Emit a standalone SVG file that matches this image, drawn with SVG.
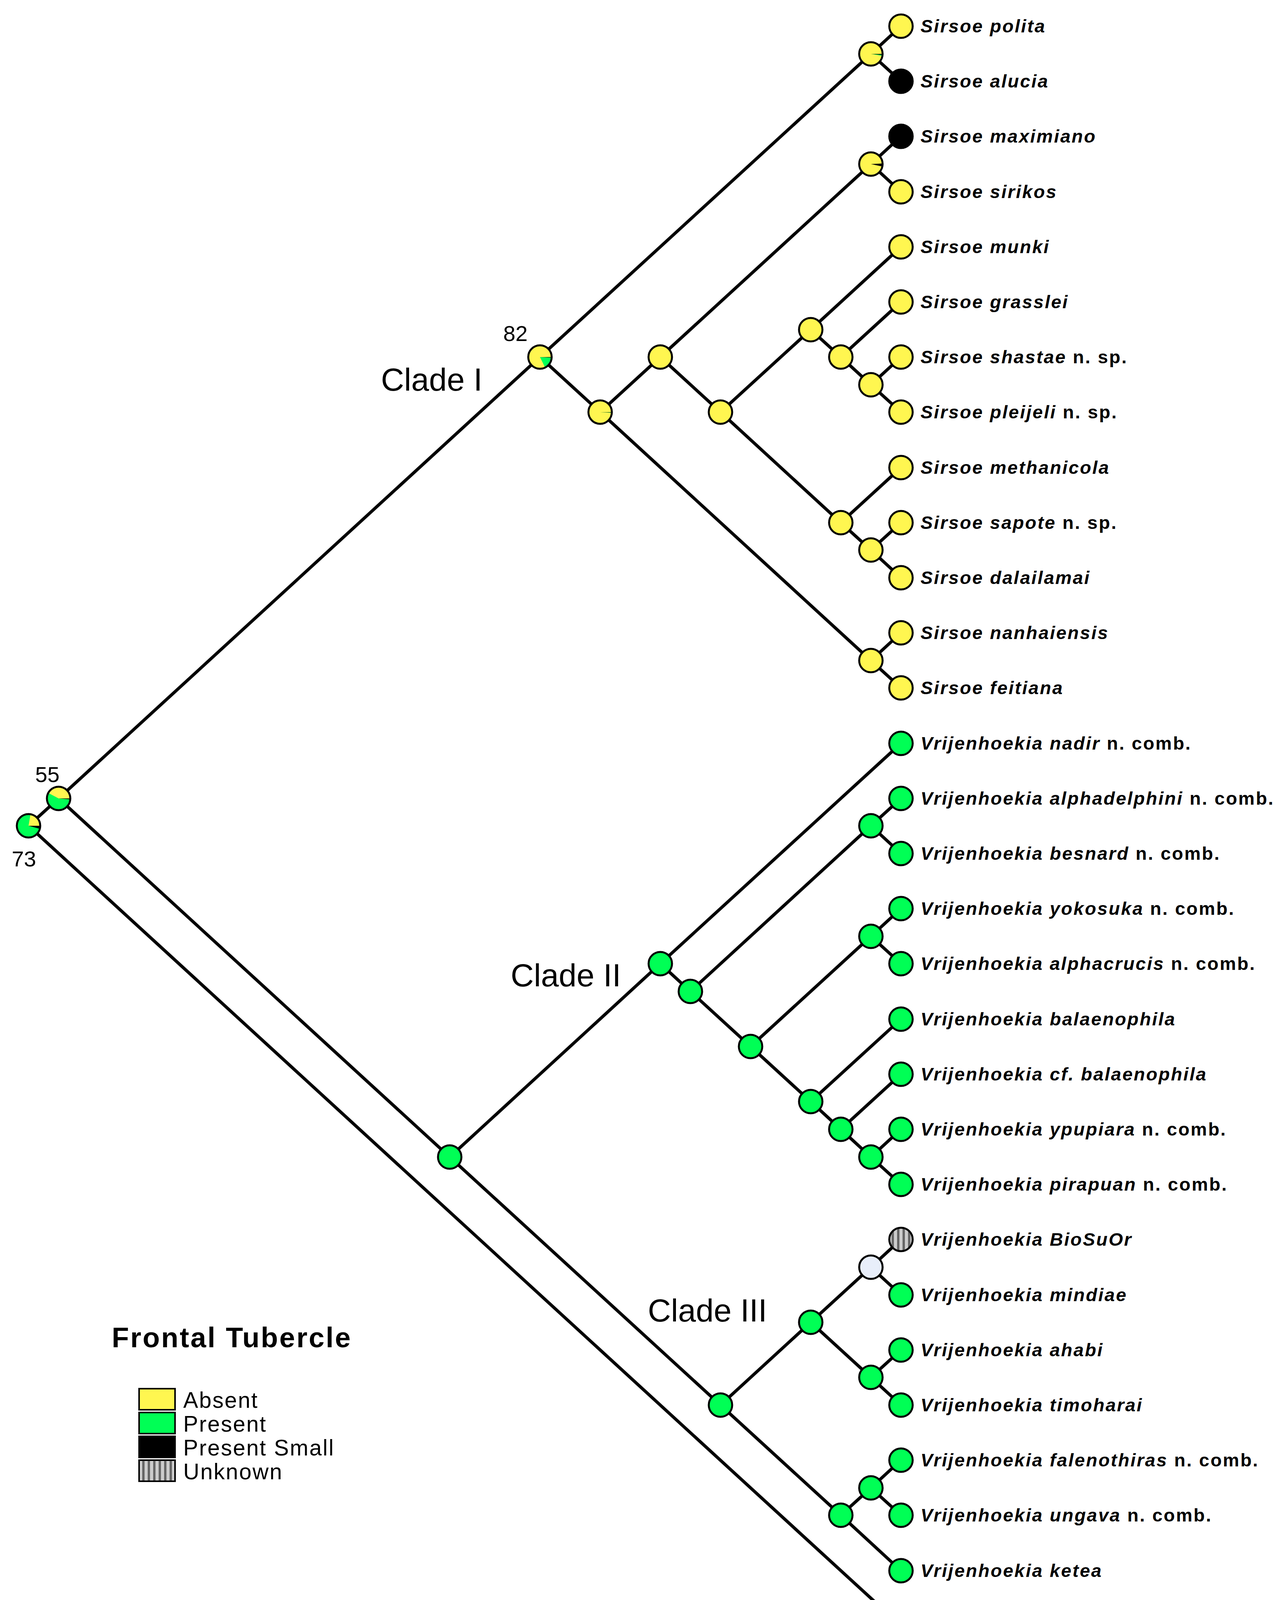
<svg xmlns="http://www.w3.org/2000/svg" width="3294" height="4240" viewBox="0 0 3294 4240">
<defs>
<pattern id="hatch" patternUnits="userSpaceOnUse" width="14" height="14"><rect width="14" height="14" fill="#cccccc"/><rect width="6" height="14" fill="#666666"/></pattern>
</defs>
<style>
.e{stroke:#000;stroke-width:8;fill:none;stroke-linecap:round}
.c{stroke:#000;stroke-width:5}
.y{fill:#FFF650}.g{fill:#00FF55}.k{fill:#000}.u{fill:url(#hatch)}.w{fill:#E8EEFA}
.t{font-family:"Liberation Sans",Arial,sans-serif;font-size:47px;font-weight:bold;font-style:italic;letter-spacing:3px}
.t tspan{font-style:normal}
.cl{font-family:"Liberation Sans",Arial,sans-serif;font-size:82px}
.n{font-family:"Liberation Sans",Arial,sans-serif;font-size:56px}
.lg{font-family:"Liberation Sans",Arial,sans-serif;font-size:57px;letter-spacing:2.5px}
</style>
<g id="connectors">
<path class="e" d="M73,2114 L150,2044 M73,2114 L2306,4162 M150,2044 L1382,914 M150,2044 L1151,2962
M1382,914 L2229,138 M1382,914 L1536,1055 M2229,138 L2306,67 M2229,138 L2306,208
M1536,1055 L1690,914 M1536,1055 L2229,1691 M1690,914 L2229,420 M1690,914 L1844,1055
M2229,420 L2306,349 M2229,420 L2306,491 M1844,1055 L2075,844 M1844,1055 L2152,1338
M2075,844 L2306,632 M2075,844 L2152,914 M2152,914 L2306,773 M2152,914 L2229,985 M2229,985 L2306,914 M2229,985 L2306,1055
M2152,1338 L2306,1197 M2152,1338 L2229,1408 M2229,1408 L2306,1338 M2229,1408 L2306,1479
M2229,1691 L2306,1620 M2229,1691 L2306,1761
M1151,2962 L1690,2467 M1151,2962 L1844,3597
M1690,2467 L2306,1903 M1690,2467 L1767,2538 M1767,2538 L2229,2114 M1767,2538 L1921,2679
M2229,2114 L2306,2044 M2229,2114 L2306,2185 M1921,2679 L2229,2397 M1921,2679 L2075,2820
M2229,2397 L2306,2326 M2229,2397 L2306,2467 M2075,2820 L2306,2609 M2075,2820 L2152,2891
M2152,2891 L2306,2750 M2152,2891 L2229,2962 M2229,2962 L2306,2891 M2229,2962 L2306,3032
M1844,3597 L2075,3385 M1844,3597 L2152,3879 M2075,3385 L2229,3244 M2075,3385 L2229,3526
M2229,3244 L2306,3173 M2229,3244 L2306,3315 M2229,3526 L2306,3456 M2229,3526 L2306,3597
M2152,3879 L2229,3809 M2152,3879 L2306,4021 M2229,3809 L2306,3738 M2229,3809 L2306,3879"/>
</g>
<g id="node-root">
<circle class="g" cx="73" cy="2114" r="30"/>
<path class="y" d="M73,2114 L78.2,2084.5 A30,30 0 0 1 103,2114 Z"/>
<path class="k" d="M73,2114 L103,2114 A30,30 0 0 1 102,2121.8 Z"/>
<circle class="c" cx="73" cy="2114" r="30" fill="none"/>
<text class="n" x="30" y="2218">73</text>
</g>
<g id="node-55">
<circle class="g" cx="150" cy="2044" r="30"/>
<path class="y" d="M150,2044 L123.5,2029.9 A30,30 0 0 1 180,2044 Z"/>
<path class="k" d="M150,2044 L180,2044 A30,30 0 0 1 179.9,2046.6 Z"/>
<circle class="c" cx="150" cy="2044" r="30" fill="none"/>
<text class="n" x="90" y="2002">55</text>
</g>
<g id="node-82">
<circle class="y" cx="1382" cy="914" r="30"/>
<path class="g" d="M1382,914 L1412,915.6 A30,30 0 0 1 1395.2,941 Z"/>
<path class="k" d="M1382,914 L1412,914 A30,30 0 0 1 1412,915.6 Z"/>
<circle class="c" cx="1382" cy="914" r="30" fill="none"/>
<text class="n" x="1288" y="873">82</text>
</g>
<g id="node-sirsoe-a">
<circle class="y" cx="1536" cy="1055" r="30"/>
<path class="g" d="M1536,1055 L1566,1056 A30,30 0 0 1 1565.9,1057.1 Z"/>
<path class="k" d="M1536,1055 L1566,1055 A30,30 0 0 1 1566,1056 Z"/>
<circle class="c" cx="1536" cy="1055" r="30" fill="none"/>
</g>
<g id="node-p01">
<circle class="y" cx="2229" cy="138" r="30"/>
<path class="g" d="M2229,138 L2258.9,140.6 A30,30 0 0 1 2258.5,143.2 Z"/>
<path class="k" d="M2229,138 L2259,138 A30,30 0 0 1 2258.9,140.6 Z"/>
<circle class="c" cx="2229" cy="138" r="30" fill="none"/>
</g>
<g id="node-p23">
<circle class="y" cx="2229" cy="420" r="30"/>
<path class="k" d="M2229,420 L2259,418.4 A30,30 0 0 1 2258.3,426.2 Z"/>
<circle class="c" cx="2229" cy="420" r="30" fill="none"/>
</g>
<g id="nodes-yellow">
<circle class="y c" cx="1690" cy="914" r="30"/>
<circle class="y c" cx="1844" cy="1055" r="30"/>
<circle class="y c" cx="2075" cy="844" r="30"/>
<circle class="y c" cx="2152" cy="914" r="30"/>
<circle class="y c" cx="2229" cy="985" r="30"/>
<circle class="y c" cx="2152" cy="1338" r="30"/>
<circle class="y c" cx="2229" cy="1408" r="30"/>
<circle class="y c" cx="2229" cy="1691" r="30"/>
</g>
<g id="nodes-green">
<circle class="g c" cx="1151" cy="2962" r="30"/>
<circle class="g c" cx="1690" cy="2467" r="30"/>
<circle class="g c" cx="1767" cy="2538" r="30"/>
<circle class="g c" cx="2229" cy="2114" r="30"/>
<circle class="g c" cx="1921" cy="2679" r="30"/>
<circle class="g c" cx="2229" cy="2397" r="30"/>
<circle class="g c" cx="2075" cy="2820" r="30"/>
<circle class="g c" cx="2152" cy="2891" r="30"/>
<circle class="g c" cx="2229" cy="2962" r="30"/>
<circle class="g c" cx="1844" cy="3597" r="30"/>
<circle class="g c" cx="2075" cy="3385" r="30"/>
<circle class="w c" cx="2229" cy="3244" r="30"/>
<circle class="g c" cx="2229" cy="3526" r="30"/>
<circle class="g c" cx="2152" cy="3879" r="30"/>
<circle class="g c" cx="2229" cy="3809" r="30"/>
</g>
<g id="clade-labels">
<text class="cl" x="975" y="1000">Clade I</text>
<text class="cl" x="1307" y="2525">Clade II</text>
<text class="cl" x="1658" y="3383">Clade III</text>
</g>
<g id="tips">
<circle class="y c" cx="2306" cy="67" r="30"/><text class="t" x="2356" y="83">Sirsoe polita</text>
<circle class="k c" cx="2306" cy="208" r="30"/><text class="t" x="2356" y="224">Sirsoe alucia</text>
<circle class="k c" cx="2306" cy="349" r="30"/><text class="t" x="2356" y="365">Sirsoe maximiano</text>
<circle class="y c" cx="2306" cy="491" r="30"/><text class="t" x="2356" y="507">Sirsoe sirikos</text>
<circle class="y c" cx="2306" cy="632" r="30"/><text class="t" x="2356" y="648">Sirsoe munki</text>
<circle class="y c" cx="2306" cy="773" r="30"/><text class="t" x="2356" y="789">Sirsoe grasslei</text>
<circle class="y c" cx="2306" cy="914" r="30"/><text class="t" x="2356" y="930">Sirsoe shastae<tspan> n. sp.</tspan></text>
<circle class="y c" cx="2306" cy="1055" r="30"/><text class="t" x="2356" y="1071">Sirsoe pleijeli<tspan> n. sp.</tspan></text>
<circle class="y c" cx="2306" cy="1197" r="30"/><text class="t" x="2356" y="1213">Sirsoe methanicola</text>
<circle class="y c" cx="2306" cy="1338" r="30"/><text class="t" x="2356" y="1354">Sirsoe sapote<tspan> n. sp.</tspan></text>
<circle class="y c" cx="2306" cy="1479" r="30"/><text class="t" x="2356" y="1495">Sirsoe dalailamai</text>
<circle class="y c" cx="2306" cy="1620" r="30"/><text class="t" x="2356" y="1636">Sirsoe nanhaiensis</text>
<circle class="y c" cx="2306" cy="1761" r="30"/><text class="t" x="2356" y="1777">Sirsoe feitiana</text>
<circle class="g c" cx="2306" cy="1903" r="30"/><text class="t" x="2356" y="1919">Vrijenhoekia nadir<tspan> n. comb.</tspan></text>
<circle class="g c" cx="2306" cy="2044" r="30"/><text class="t" x="2356" y="2060">Vrijenhoekia alphadelphini<tspan> n. comb.</tspan></text>
<circle class="g c" cx="2306" cy="2185" r="30"/><text class="t" x="2356" y="2201">Vrijenhoekia besnard<tspan> n. comb.</tspan></text>
<circle class="g c" cx="2306" cy="2326" r="30"/><text class="t" x="2356" y="2342">Vrijenhoekia yokosuka<tspan> n. comb.</tspan></text>
<circle class="g c" cx="2306" cy="2467" r="30"/><text class="t" x="2356" y="2483">Vrijenhoekia alphacrucis<tspan> n. comb.</tspan></text>
<circle class="g c" cx="2306" cy="2609" r="30"/><text class="t" x="2356" y="2625">Vrijenhoekia balaenophila</text>
<circle class="g c" cx="2306" cy="2750" r="30"/><text class="t" x="2356" y="2766">Vrijenhoekia cf. balaenophila</text>
<circle class="g c" cx="2306" cy="2891" r="30"/><text class="t" x="2356" y="2907">Vrijenhoekia ypupiara<tspan> n. comb.</tspan></text>
<circle class="g c" cx="2306" cy="3032" r="30"/><text class="t" x="2356" y="3048">Vrijenhoekia pirapuan<tspan> n. comb.</tspan></text>
<circle class="u c" cx="2306" cy="3173" r="30"/><text class="t" x="2356" y="3189">Vrijenhoekia BioSuOr</text>
<circle class="g c" cx="2306" cy="3315" r="30"/><text class="t" x="2356" y="3331">Vrijenhoekia mindiae</text>
<circle class="g c" cx="2306" cy="3456" r="30"/><text class="t" x="2356" y="3472">Vrijenhoekia ahabi</text>
<circle class="g c" cx="2306" cy="3597" r="30"/><text class="t" x="2356" y="3613">Vrijenhoekia timoharai</text>
<circle class="g c" cx="2306" cy="3738" r="30"/><text class="t" x="2356" y="3754">Vrijenhoekia falenothiras<tspan> n. comb.</tspan></text>
<circle class="g c" cx="2306" cy="3879" r="30"/><text class="t" x="2356" y="3895">Vrijenhoekia ungava<tspan> n. comb.</tspan></text>
<circle class="g c" cx="2306" cy="4021" r="30"/><text class="t" x="2356" y="4037">Vrijenhoekia ketea</text>
<circle class="g c" cx="2306" cy="4162" r="30"/><text class="t" x="2356" y="4178">Hesiospina vestimentifera</text>
</g>
<g id="legend">
<text x="286" y="3449" font-family="Liberation Sans, Arial, sans-serif" font-size="72" font-weight="bold" letter-spacing="3.5">Frontal Tubercle</text>
<rect class="y" x="356" y="3555" width="92" height="54" stroke="#000" stroke-width="4"/>
<rect class="g" x="356" y="3616" width="92" height="54" stroke="#000" stroke-width="4"/>
<rect class="k" x="356" y="3677" width="92" height="54" stroke="#000" stroke-width="4"/>
<rect class="u" x="356" y="3738" width="92" height="54" stroke="#000" stroke-width="4"/>
<text class="lg" x="469" y="3604">Absent</text>
<text class="lg" x="469" y="3665">Present</text>
<text class="lg" x="469" y="3726">Present Small</text>
<text class="lg" x="469" y="3787">Unknown</text>
</g>
</svg>
